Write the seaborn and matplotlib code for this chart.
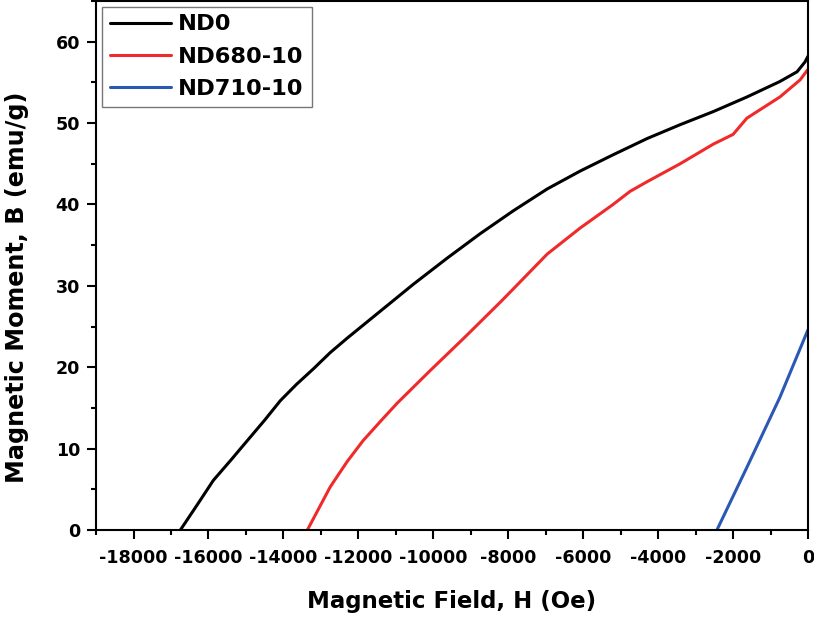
import numpy as np
import matplotlib
matplotlib.use("Agg")
import matplotlib.pyplot as plt
import seaborn as sns
import pandas as pd
from matplotlib.ticker import MultipleLocator

# demagnetisation curves
nd0_h = [-16750, -16300, -15870, -15400, -14960, -14500, -14080, -13650, -13200,
         -12750, -12290, -11410, -10530, -9630, -8750, -7870, -6960, -6080,
         -5200, -4290, -3410, -2530, -1630, -750, -290, -80, 0]
nd0_b = [0.0, 3.1, 6.1, 8.6, 11.0, 13.5, 15.9, 17.9, 19.8,
         21.8, 23.6, 26.9, 30.2, 33.4, 36.4, 39.2, 41.9, 44.1,
         46.1, 48.1, 49.8, 51.4, 53.2, 55.1, 56.3, 57.5, 58.2]

nd680_h = [-13360, -12750, -12300, -11870, -11400, -10960, -10520, -10080, -9200,
           -8210, -7890, -6960, -6080, -5200, -4750, -4290, -3410, -2530, -2000,
           -1630, -750, -210, 0]
nd680_b = [0.0, 5.3, 8.4, 11.0, 13.4, 15.6, 17.6, 19.6, 23.5,
           28.0, 29.5, 33.9, 37.1, 40.0, 41.6, 42.8, 45.0, 47.4, 48.6,
           50.6, 53.2, 55.3, 56.6]

nd710_h = [-2430, -1630, -750, 0]
nd710_b = [0.0, 7.7, 16.3, 24.6]

labels = ["ND0", "ND680-10", "ND710-10"]
colors = ["#000000", "#f02a2a", "#2a58b4"]

df = pd.concat([
    pd.DataFrame({"H": nd0_h, "B": nd0_b, "sample": labels[0]}),
    pd.DataFrame({"H": nd680_h, "B": nd680_b, "sample": labels[1]}),
    pd.DataFrame({"H": nd710_h, "B": nd710_b, "sample": labels[2]}),
])

sns.set_style("ticks")
plt.rcParams['font.family'] = ['DejaVu Sans']
plt.rcParams['font.weight'] = 'bold'
plt.rcParams['axes.unicode_minus'] = False
plt.rcParams['text.color'] = 'black'
plt.rcParams['axes.labelcolor'] = 'black'
plt.rcParams['xtick.color'] = 'black'
plt.rcParams['ytick.color'] = 'black'
plt.rcParams['axes.edgecolor'] = 'black'

fig = plt.figure(figsize=(8.14, 6.21), dpi=100)
ax = fig.add_axes([0.118, 0.1465, 0.8746, 0.852])

sns.lineplot(data=df, x="H", y="B", hue="sample", palette=colors,
             sort=False, estimator=None, linewidth=2.2, ax=ax)

ax.set_xlim(-19000, 0)
ax.set_ylim(0, 65)
ax.xaxis.set_major_locator(MultipleLocator(2000))
ax.xaxis.set_minor_locator(MultipleLocator(1000))
ax.yaxis.set_major_locator(MultipleLocator(10))
ax.yaxis.set_minor_locator(MultipleLocator(5))
ax.tick_params(which='major', direction='out', length=6.5, width=1.5,
               labelsize=12.6, colors='black')
ax.tick_params(axis='x', which='major', pad=7)
ax.tick_params(axis='y', which='major', pad=5)
ax.tick_params(which='minor', direction='out', length=3.5, width=1.5, colors='black')
for lab in ax.get_xticklabels() + ax.get_yticklabels():
    lab.set_fontweight('bold')
for s in ax.spines.values():
    s.set_linewidth(1.5)
    s.set_color('black')

ax.set_xlabel("Magnetic Field, H (Oe)", fontsize=16.5, fontweight='bold',
              labelpad=17, color='black')
ax.set_ylabel("Magnetic Moment, B (emu/g)", fontsize=17.2, fontweight='bold',
              color='black')
ax.yaxis.set_label_coords(-0.094, 0.459)

leg = ax.legend(loc='upper left', fontsize=16.2, handlelength=2.75,
                frameon=True, fancybox=False, borderaxespad=0.25,
                handletextpad=0.3, labelspacing=0.55, borderpad=0.35)
leg.get_frame().set_edgecolor('#555555')
leg.get_frame().set_linewidth(1.0)
for t in leg.get_texts():
    t.set_fontweight('bold')
    t.set_color('black')

fig.savefig("out.png", dpi=100)
